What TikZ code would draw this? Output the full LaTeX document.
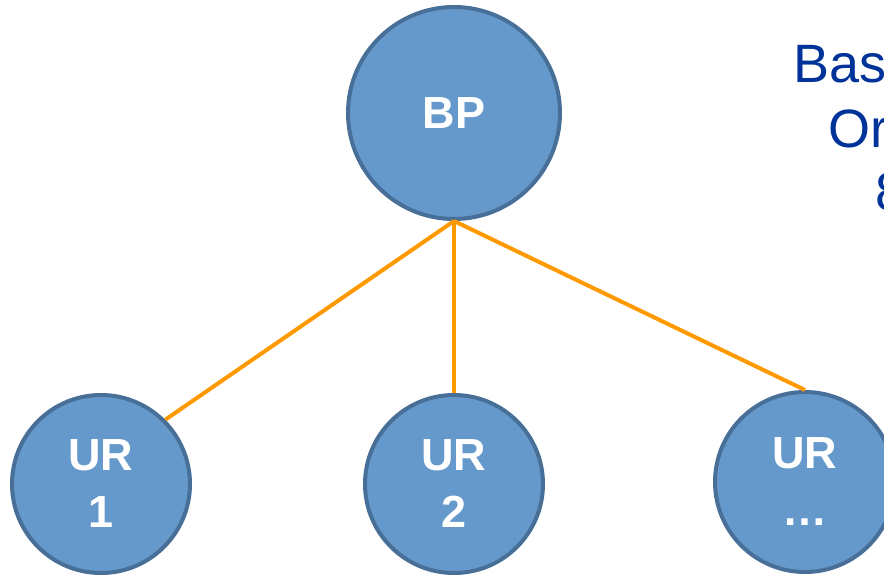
\documentclass[tikz,border=0pt]{standalone}
\usepackage{fontspec}
\setmainfont{Liberation Sans}
\definecolor{nodefill}{RGB}{101,153,203}
\definecolor{nodeedge}{RGB}{72,111,152}
\definecolor{linkorange}{RGB}{255,153,0}
\definecolor{notetext}{RGB}{0,51,153}
\begin{document}
\begin{tikzpicture}[x=1pt,y=-1pt,
  unit/.style={circle, draw=nodeedge, fill=nodefill, line width=4pt,
    inner sep=0pt, text=white, align=center,
    font=\fontsize{45}{57}\selectfont\bfseries},
  link/.style={draw=linkorange, line width=4pt},
  note/.style={anchor=base west, inner sep=0pt, text=notetext,
    font=\fontsize{54}{64}\selectfont}]
  \useasboundingbox (0,0) rectangle (884,579);
  \clip (0,0) rectangle (884,579);

  % the four units
  \node[unit, minimum size=212pt] (bp) at (454,113) {BP};
  \node[unit, minimum size=178pt] (ur1) at (101,484) {UR\\1};
  \node[unit, minimum size=178pt] (ur2) at (454,484) {UR\\2};
  \node[unit, minimum size=180pt] (ur3) at (805,482) {UR\\…};

  % links from BP down to each unit
  \draw[link] (bp.south) -- (ur1.45);
  \draw[link] (bp.south) -- (ur2.north);
  \draw[link] (bp.south) -- (ur3.north);

  % side note, running past the right edge
  \node[note] (n1) at (793,82) {Bas};
  \node[note] (n2) at (828,147) {Or};
  \node[note] (n3) at (875,210) {8};
\end{tikzpicture}
\end{document}
